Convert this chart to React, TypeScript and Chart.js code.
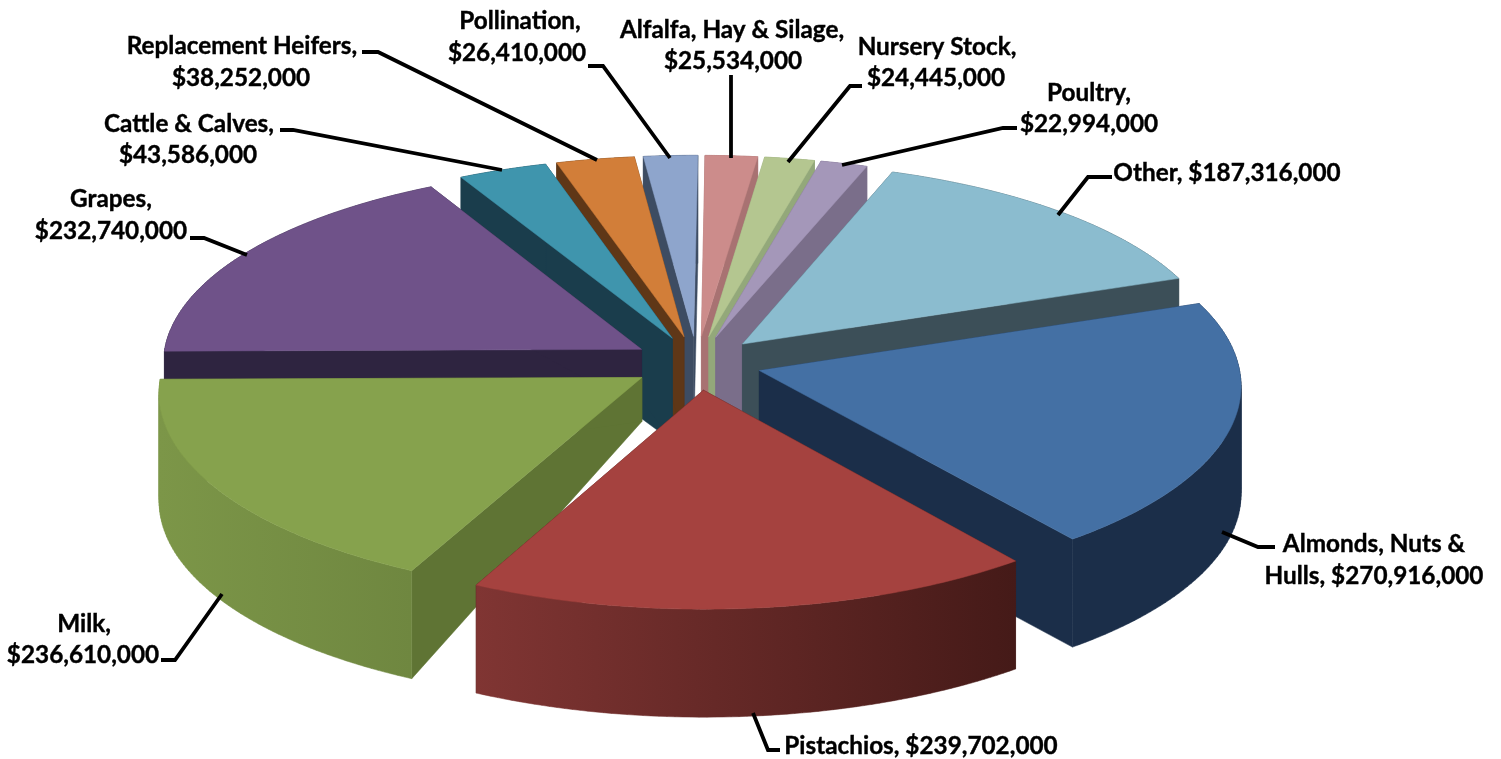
import React, { useEffect, useRef } from "react";
import { Chart, registerables } from "chart.js";

Chart.register(...registerables);

// ---- data ----
const categories = ["Almonds, Nuts & Hulls", "Pistachios", "Milk", "Grapes", "Cattle & Calves", "Replacement Heifers", "Pollination", "Alfalfa, Hay & Silage", "Nursery Stock", "Poultry", "Other"];
const values = [270916000, 239702000, 236610000, 232740000, 43586000, 38252000, 26410000, 25534000, 24445000, 22994000, 187316000];

// ---- colours ----
const topColors = ["#4470a4", "#a5423f", "#86a24d", "#6f5289", "#3f95ad", "#d27e39", "#8ea5cc", "#cc8c8b", "#b4c690", "#a497b9", "#8bbccf"];
const cutColors = ["#1b2e49", "#451a18", "#5f7434", "#2e2440", "#1a3d4c", "#5f3717", "#3d4c62", "#a87272", "#93a87a", "#7a6e8a", "#3c4f58"];
const rimLeftColors = ["#1b2e49", "#803533", "#7c9648", "#2e2440", "#1a3d4c", "#5f3717", "#3d4c62", "#a87272", "#93a87a", "#7a6e8a", "#3c4f58"];
const rimRightColors = ["#1b2e49", "#451a18", "#6f8740", "#2e2440", "#1a3d4c", "#5f3717", "#3d4c62", "#a87272", "#93a87a", "#7a6e8a", "#3c4f58"];

// ---- 3D view ----
const VIEW = { cx: 697, cy: 363, rx: 479, ry: 200, ryFront: 15, perspFront: 0.07, perspBack: 0.065, rimDepth: 108 };
const tipDepths = [108, 108, 44, 60, 103, 103, 103, 103, 103, 103, 103];

// ---- label layout: text lines (centre x, centre y) and leader polylines ----
const money = (v: number) => "$" + v.toLocaleString("en-US");
const labelText: string[][] = values.map((v, i) => {
  const name = categories[i];
  if (i === 0) return ["Almonds, Nuts &", "Hulls, " + money(v)];
  if (i === 1 || i === 10) return [name + ", " + money(v)];
  return [name + ",", money(v)];
});
const labelPos: number[][][] = [
  [[1374, 544], [1374, 576]],
  [[921, 746]],
  [[84, 624], [83, 655]],
  [[111, 199], [111, 231]],
  [[189, 124], [188, 155]],
  [[242, 46], [241, 78]],
  [[520, 21], [517, 53]],
  [[732, 30], [733, 61]],
  [[937, 47], [936, 78]],
  [[1089, 93], [1089, 124]],
  [[1227, 173]],
];
const leaders: number[][][] = [
  [[1275, 547], [1258, 547], [1222, 532]],
  [[780, 750], [768, 750], [753, 713]],
  [[161, 660], [175, 660], [222, 594]],
  [[190, 238], [204, 238], [247, 255]],
  [[280, 130], [293, 130], [502, 170]],
  [[362, 52], [378, 52], [597, 160]],
  [[588, 66], [603, 66], [670, 158]],
  [[731, 75], [731, 158]],
  [[862, 86], [850, 86], [788, 162]],
  [[1017, 128], [1003, 128], [842, 165]],
  [[1112, 177], [1088, 177], [1058, 215]],
];

const project = (u: number, v: number): [number, number] => {
  const s = 1 + (v > 0 ? VIEW.perspFront : VIEW.perspBack) * v;
  return [VIEW.cx + u * VIEW.rx * s, VIEW.cy + v * (VIEW.ry + VIEW.ryFront * v)];
};

const trace = (ctx: CanvasRenderingContext2D, pts: number[][]) => {
  pts.forEach((p, i) => (i ? ctx.lineTo(p[0], p[1]) : ctx.moveTo(p[0], p[1])));
  ctx.closePath();
};

const paint = (ctx: CanvasRenderingContext2D, fill: string | CanvasGradient) => {
  ctx.fillStyle = fill;
  ctx.strokeStyle = fill;
  ctx.lineWidth = 0.5;
  ctx.fill();
  ctx.stroke();
};

const poly = (ctx: CanvasRenderingContext2D, pts: number[][], fill: string | CanvasGradient) => {
  ctx.beginPath();
  trace(ctx, pts);
  paint(ctx, fill);
};

const area = (q: number[][]) =>
  q.reduce((sum, p, i) => {
    const r = q[(i + 1) % q.length];
    return sum + p[0] * r[1] - r[0] * p[1];
  }, 0);

const pie3d = {
  id: "pie3d",
  beforeDatasetsDraw(chart: any) {
    const ctx: CanvasRenderingContext2D = chart.ctx;
    const arcs = chart.getDatasetMeta(0).data;
    const order = arcs.map((_: any, i: number) => i).sort((a: number, b: number) => {
      const m = (k: number) => Math.sin((arcs[k].startAngle + arcs[k].endAngle) / 2);
      return m(a) - m(b);
    });
    ctx.save();
    for (const i of order) {
      const arc = arcs[i];
      const mid = (arc.startAngle + arc.endAngle) / 2;
      const ex = (arc.options.offset / arc.outerRadius) * Math.cos(mid);
      const ey = (arc.options.offset / arc.outerRadius) * Math.sin(mid);
      const tip = project(ex, ey);
      const rim: number[][] = [];
      const n = 72;
      for (let t = 0; t <= n; t++) {
        const a = arc.startAngle + ((arc.endAngle - arc.startAngle) * t) / n;
        rim.push(project(ex + Math.cos(a), ey + Math.sin(a)));
      }
      const d = VIEW.rimDepth;
      const td = tipDepths[i];
      const down = (p: number[], h: number) => [p[0], p[1] + h];
      poly(ctx, [tip, rim[0], down(rim[0], d), down(tip, td)], cutColors[i]);
      poly(ctx, [tip, rim[n], down(rim[n], d), down(tip, td)], cutColors[i]);
      const xs = rim.map((p) => p[0]);
      const g = ctx.createLinearGradient(Math.min(...xs), 0, Math.max(...xs), 0);
      g.addColorStop(0, rimLeftColors[i]);
      g.addColorStop(1, rimRightColors[i]);
      // all quads wound the same way in one path, so the wall fills as a seamless union
      ctx.beginPath();
      for (let t = 0; t < n; t++) {
        const q = [rim[t], rim[t + 1], down(rim[t + 1], d), down(rim[t], d)];
        trace(ctx, area(q) < 0 ? q.reverse() : q);
      }
      paint(ctx, g);
      poly(ctx, [tip, ...rim], topColors[i]);
    }
    // leaders and labels
    ctx.strokeStyle = "#000000";
    ctx.lineWidth = 3.8;
    ctx.lineJoin = "miter";
    ctx.lineCap = "butt";
    for (const path of leaders) {
      ctx.beginPath();
      path.forEach((p, i) => (i ? ctx.lineTo(p[0], p[1]) : ctx.moveTo(p[0], p[1])));
      ctx.stroke();
    }
    ctx.fillStyle = "#000000";
    ctx.strokeStyle = "#000000";
    ctx.lineWidth = 0.4;
    ctx.font = "bold 24.3px Lato";
    ctx.textAlign = "center";
    ctx.textBaseline = "middle";
    labelText.forEach((lines, i) => {
      lines.forEach((txt, j) => {
        ctx.fillText(txt, labelPos[i][j][0], labelPos[i][j][1]);
        ctx.strokeText(txt, labelPos[i][j][0], labelPos[i][j][1]);
      });
    });
    ctx.restore();
    return false;
  },
};

export default function App() {
  const ref = useRef<HTMLCanvasElement>(null);
  useEffect(() => {
    const chart = new Chart(ref.current as HTMLCanvasElement, {
      type: "pie",
      data: {
        labels: categories,
        datasets: [{ data: values, backgroundColor: topColors, offset: 48, borderWidth: 0 }],
      },
      options: {
        responsive: false,
        animation: false,
        rotation: 70,
        plugins: { legend: { display: false }, tooltip: { enabled: false } },
      },
      plugins: [pie3d],
    } as any);
    return () => chart.destroy();
  }, []);
  return (
    <div style={{ position: "fixed", left: 0, top: 0, width: 1501, height: 759, background: "#fff" }}>
      <canvas ref={ref} width={1501} height={759} style={{ display: "block" }} />
    </div>
  );
}
